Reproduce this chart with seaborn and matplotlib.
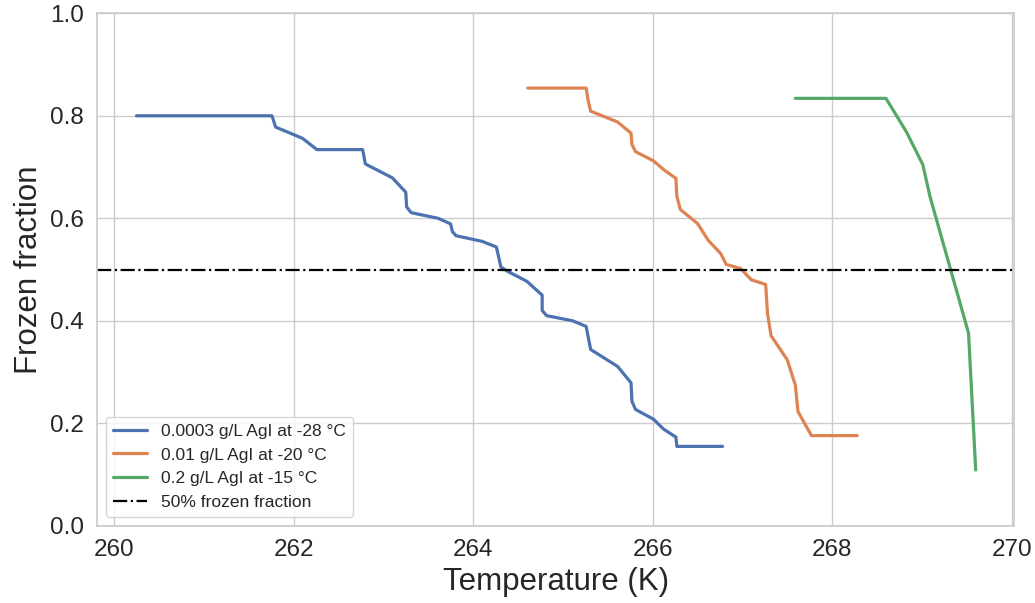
import numpy as np
import pandas as pd
import matplotlib
matplotlib.use("Agg")
import matplotlib.pyplot as plt
import seaborn as sns

# Blue: 0.0003 g/L AgI at -28 °C
t_blue = [260.25, 261.76, 261.80, 262.10, 262.26, 262.77, 262.80, 263.10, 263.25, 263.26,
          263.31, 263.61, 263.75, 263.77, 263.81, 264.10, 264.26, 264.31, 264.38, 264.60,
          264.77, 264.77, 264.82, 265.11, 265.26, 265.31, 265.61, 265.76, 265.77, 265.81,
          266.01, 266.12, 266.26, 266.27, 266.78]
f_blue = [0.800, 0.800, 0.778, 0.756, 0.734, 0.734, 0.706, 0.679, 0.651, 0.622,
          0.611, 0.600, 0.589, 0.574, 0.566, 0.555, 0.544, 0.505, 0.497, 0.477,
          0.450, 0.420, 0.410, 0.400, 0.389, 0.344, 0.311, 0.279, 0.243, 0.227,
          0.208, 0.189, 0.173, 0.155, 0.155]

# Orange: 0.01 g/L AgI at -20 °C
t_orange = [264.61, 265.26, 265.28, 265.31, 265.61, 265.76, 265.77, 265.81, 266.01, 266.13,
            266.26, 266.27, 266.31, 266.50, 266.62, 266.76, 266.82, 266.98, 267.10, 267.26,
            267.28, 267.32, 267.50, 267.59, 267.62, 267.77, 268.28]
f_orange = [0.854, 0.854, 0.832, 0.809, 0.788, 0.766, 0.744, 0.730, 0.712, 0.694,
            0.678, 0.643, 0.617, 0.590, 0.557, 0.531, 0.510, 0.502, 0.480, 0.471,
            0.415, 0.371, 0.324, 0.275, 0.223, 0.176, 0.176]

# Green: 0.2 g/L AgI at -15 °C
t_green = [267.59, 268.60, 268.83, 269.01, 269.09, 269.52, 269.60]
f_green = [0.834, 0.834, 0.768, 0.705, 0.643, 0.376, 0.109]

labels = ["0.0003 g/L AgI at -28 °C", "0.01 g/L AgI at -20 °C", "0.2 g/L AgI at -15 °C"]
half_level = 0.5
half_label = "50% frozen fraction"

sns.set_theme(style="whitegrid")
plt.rcParams['font.family'] = ['Liberation Sans', 'DejaVu Sans']

frames = []
for t, f, lab in zip([t_blue, t_orange, t_green], [f_blue, f_orange, f_green], labels):
    frames.append(pd.DataFrame({"T": t, "F": f, "series": lab}))
df = pd.concat(frames, ignore_index=True)

fig, ax = plt.subplots(figsize=(10.35, 6.03), dpi=100)
sns.lineplot(data=df, x="T", y="F", hue="series", sort=False, estimator=None,
             palette=sns.color_palette("deep", 3), linewidth=2.3, ax=ax)
ax.axhline(half_level, color="black", linestyle="-.", linewidth=1.6, label=half_label)

ax.set_xlim(259.81, 270.03)
ax.set_ylim(0, 1.0)
ax.set_xticks([260, 262, 264, 266, 268, 270])
ax.set_yticks([0.0, 0.2, 0.4, 0.6, 0.8, 1.0])
ax.set_xlabel("Temperature (K)", fontsize=22.5)
ax.set_ylabel("Frozen fraction", fontsize=22.5)
ax.tick_params(labelsize=17.5)

handles, labs = ax.get_legend_handles_labels()
ax.legend(handles, labs, loc="lower left", fontsize=12.5, title=None)

fig.subplots_adjust(left=0.0937, right=0.980, top=0.978, bottom=0.128)
fig.savefig("out.png", dpi=100)
